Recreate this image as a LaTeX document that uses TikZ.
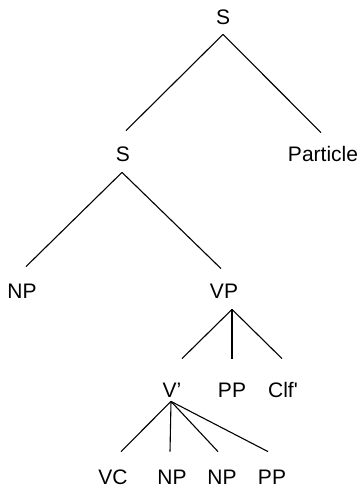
\documentclass[tikz,border=0pt]{standalone}
\usepackage{fontspec}
\setmainfont{Liberation Sans}
\tikzset{
  cat/.style={anchor=base, inner sep=0pt, text height=7.5pt, text depth=0pt,
    font=\fontsize{10.5}{12}\selectfont},
  branch/.style={line width=0.55pt}
}
\begin{document}
\begin{tikzpicture}[x=0.5pt, y=-0.5pt]
\useasboundingbox (0,0) rectangle (359,486);
% category labels, placed on their baselines
\node[cat] (s0)   at (223,25)  {S};
\node[cat] (s1)   at (123,162) {S};
\node[cat] (part) at (323,162) {Particle};
\node[cat] (np)   at (22,298)  {NP};
\node[cat] (vp)   at (224,298) {VP};
\node[cat] (vbar) at (172,397) {V'};
\node[cat] (pp1)  at (232,397) {PP};
\node[cat] (clf)  at (283,397) {Clf\textquotesingle};
\node[cat] (vc)   at (113,484) {VC};
\node[cat] (np1)  at (172,484) {NP};
\node[cat] (np2)  at (222,484) {NP};
\node[cat] (pp2)  at (272,484) {PP};
% branches: mother/daughter with small offsets from the anchors
\foreach \m/\d/\mx/\my/\dx/\dy in {
  s0/s1/0/9/3/-16, s0/part/0/9/-2/-14,
  s1/np/-1/10/4/-16, s1/vp/-1/10/-3/-14,
  vp/vbar/8/11/10/-23, vp/pp1/8/11/0/-23, vp/clf/8/11/-1/-23,
  vbar/vc/-1/4/8/-17, vbar/np1/-1/4/-2/-17,
  vbar/np2/-1/4/-4/-17, vbar/pp2/-1/4/-4/-17}
  \draw[branch] ([shift={(\mx,\my)}]\m.south) -- ([shift={(\dx,\dy)}]\d.north);
\end{tikzpicture}
\end{document}
